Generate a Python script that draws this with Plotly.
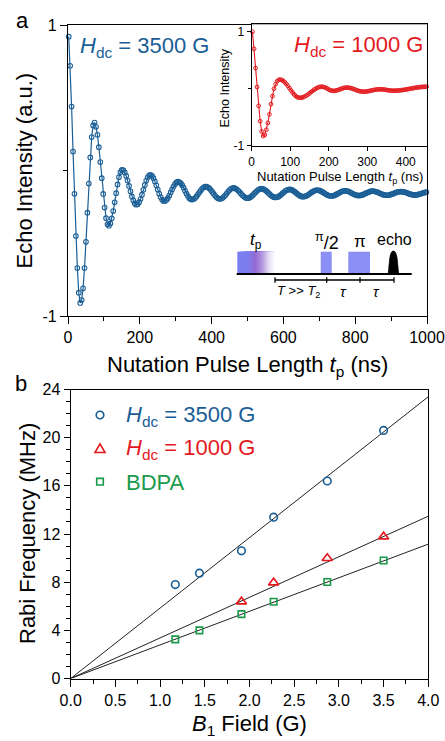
import plotly.graph_objects as go

W, H = 445, 741
FONT = "Liberation Sans, Arial, sans-serif"
BLUE = "#1a5e96"
RED = "#e4191e"
GREEN = "#1a9a4b"

# ---------------- data: panel a (main, Hdc = 3500 G) ----------------
t_main = list(range(2, 1000, 4))  # ns, acquisition grid
echo_3500 = [
    0.92, 0.72, 0.44, 0.13, -0.16, -0.45, -0.67, -0.84, -0.91, -0.89,
    -0.81, -0.67, -0.49, -0.29, -0.09, 0.09, 0.23, 0.31, 0.33, 0.30,
    0.245, 0.16, 0.058, -0.053, -0.161, -0.255, -0.328, -0.370, -0.379, -0.364,
    -0.329, -0.279, -0.219, -0.156, -0.096, -0.046, -0.011, 0.004, 0.002, -0.013,
    -0.037, -0.069, -0.106, -0.143, -0.178, -0.206, -0.226, -0.235, -0.232, -0.218,
    -0.196, -0.166, -0.133, -0.099, -0.069, -0.047, -0.033, -0.030, -0.037, -0.053,
    -0.075, -0.102, -0.131, -0.159, -0.182, -0.200, -0.209, -0.209, -0.202, -0.190,
    -0.172, -0.151, -0.130, -0.110, -0.094, -0.082, -0.077, -0.079, -0.087, -0.101,
    -0.118, -0.139, -0.159, -0.176, -0.190, -0.198, -0.200, -0.196, -0.189, -0.178,
    -0.164, -0.150, -0.136, -0.124, -0.115, -0.111, -0.111, -0.115, -0.123, -0.134,
    -0.147, -0.161, -0.174, -0.184, -0.192, -0.195, -0.194, -0.189, -0.181, -0.170,
    -0.158, -0.145, -0.134, -0.126, -0.121, -0.120, -0.123, -0.129, -0.138, -0.148,
    -0.159, -0.170, -0.179, -0.186, -0.190, -0.190, -0.186, -0.180, -0.171, -0.161,
    -0.151, -0.141, -0.133, -0.128, -0.125, -0.126, -0.130, -0.136, -0.144, -0.154,
    -0.163, -0.172, -0.179, -0.183, -0.185, -0.184, -0.180, -0.173, -0.165, -0.156,
    -0.148, -0.140, -0.134, -0.131, -0.130, -0.132, -0.137, -0.143, -0.151, -0.159,
    -0.167, -0.173, -0.178, -0.180, -0.179, -0.176, -0.172, -0.165, -0.158, -0.151,
    -0.145, -0.140, -0.136, -0.135, -0.136, -0.139, -0.144, -0.149, -0.156, -0.162,
    -0.168, -0.172, -0.174, -0.175, -0.174, -0.171, -0.166, -0.161, -0.155, -0.150,
    -0.145, -0.142, -0.140, -0.140, -0.142, -0.145, -0.150, -0.155, -0.160, -0.165,
    -0.169, -0.171, -0.172, -0.171, -0.169, -0.166, -0.161, -0.156, -0.152, -0.148,
    -0.144, -0.142, -0.142, -0.143, -0.146, -0.149, -0.153, -0.158, -0.162, -0.166,
    -0.168, -0.170, -0.170, -0.169, -0.166, -0.163, -0.159, -0.155, -0.151, -0.148,
    -0.146, -0.145, -0.145, -0.147, -0.149, -0.152, -0.156, -0.160, -0.163, -0.166,
    -0.167, -0.168, -0.168, -0.166, -0.163, -0.160, -0.157, -0.154, -0.151, -0.149,
]

# ---------------- data: panel a inset (Hdc = 1000 G) ----------------
t_inset = list(range(2, 456, 4))  # ns
echo_1000 = [
    1.00, 0.70, 0.36, 0.03, -0.30, -0.57, -0.75, -0.83, -0.81, -0.72,
    -0.60, -0.45, -0.27, -0.13, 0.00, 0.08, 0.13, 0.155, 0.160, 0.153,
    0.137, 0.113, 0.083, 0.048, 0.010, -0.029, -0.066, -0.099, -0.126, -0.146,
    -0.157, -0.160, -0.156, -0.148, -0.136, -0.120, -0.102, -0.081, -0.060, -0.039,
    -0.018, -0.001, 0.014, 0.026, 0.033, 0.035, 0.032, 0.023, 0.010, -0.005,
    -0.020, -0.031, -0.037, -0.038, -0.034, -0.027, -0.018, -0.008, 0.002, 0.011,
    0.017, 0.020, 0.019, 0.015, 0.009, 0.000, -0.009, -0.020, -0.030, -0.039,
    -0.046, -0.050, -0.052, -0.051, -0.049, -0.044, -0.039, -0.033, -0.027, -0.021,
    -0.016, -0.013, -0.011, -0.010, -0.011, -0.014, -0.017, -0.022, -0.026, -0.030,
    -0.033, -0.035, -0.035, -0.034, -0.033, -0.031, -0.028, -0.025, -0.021, -0.016,
    -0.012, -0.007, -0.002, 0.003, 0.008, 0.013, 0.018, 0.022, 0.025, 0.029,
    0.031, 0.033, 0.034, 0.035,
]

# ---------------- data: panel b ----------------
b1_field = [1.17, 1.44, 1.91, 2.27, 2.87, 3.50]          # G
rabi_3500 = [7.8, 8.75, 10.6, 13.4, 16.4, 20.6]         # MHz
b1_field_1000 = [1.91, 2.27, 2.87, 3.50]
rabi_1000 = [6.38, 7.96, 9.98, 11.78]
rabi_bdpa = [3.25, 4.0, 5.35, 6.37, 8.02, 9.8]
fit_x = [0.0, 4.0]
fit_slopes = {"3500": 5.85, "1000": 3.37, "bdpa": 2.79}  # MHz/G, lines through origin

legend_labels = ["<i>H</i><sub>dc</sub> = 3500 G", "<i>H</i><sub>dc</sub> = 1000 G", "BDPA"]


def px(x):
    return x / W


def py(y):
    return 1 - y / H


fig = go.Figure()

fig.add_trace(go.Scatter(
    x=t_main, y=echo_3500, mode="lines+markers", xaxis="x", yaxis="y",
    line=dict(color=BLUE, width=1.2),
    marker=dict(symbol="circle-open", size=4.6, color=BLUE, line=dict(width=1.1, color=BLUE)),
    cliponaxis=False, showlegend=False))

fig.add_trace(go.Scatter(
    x=t_inset, y=echo_1000, mode="lines+markers", xaxis="x2", yaxis="y2",
    line=dict(color=RED, width=1.1),
    marker=dict(symbol="circle-open", size=3.8, color=RED, line=dict(width=1.0, color=RED)),
    cliponaxis=False, showlegend=False))

for key in ["3500", "1000", "bdpa"]:
    fig.add_trace(go.Scatter(
        x=fit_x, y=[fit_slopes[key] * v for v in fit_x], mode="lines",
        xaxis="x3", yaxis="y3", line=dict(color="#222222", width=1.0), showlegend=False))

fig.add_trace(go.Scatter(
    x=b1_field, y=rabi_3500, mode="markers", xaxis="x3", yaxis="y3",
    marker=dict(symbol="circle-open", size=7.6, color=BLUE, line=dict(width=1.6, color=BLUE)),
    showlegend=False))
fig.add_trace(go.Scatter(
    x=b1_field_1000, y=rabi_1000, mode="markers", xaxis="x3", yaxis="y3",
    marker=dict(symbol="triangle-up-open", size=9, color=RED, line=dict(width=1.6, color=RED)),
    showlegend=False))
fig.add_trace(go.Scatter(
    x=b1_field, y=rabi_bdpa, mode="markers", xaxis="x3", yaxis="y3",
    marker=dict(symbol="square-open", size=6.5, color=GREEN, line=dict(width=1.6, color=GREEN)),
    showlegend=False))

axis_common = dict(showline=True, linecolor="black", linewidth=1.3, mirror=True,
                   showgrid=False, zeroline=False, ticks="outside", tickcolor="black",
                   tickwidth=1.2, color="black", automargin=False)

fig.update_layout(
    width=W, height=H, margin=dict(l=0, r=0, t=0, b=0, pad=0, autoexpand=False),
    paper_bgcolor="white", plot_bgcolor="white",
    font=dict(family=FONT, color="black"),
    xaxis=dict(domain=[px(68), px(427)], range=[0, 1000], anchor="y", dtick=200,
               ticklen=7, tickfont=dict(size=16),
               minor=dict(dtick=100, ticklen=4, ticks="outside", tickcolor="black", tickwidth=1.2),
               **axis_common),
    yaxis=dict(domain=[py(316), py(25)], range=[-1, 1], anchor="x", tickmode="array",
               tickvals=[-1, 1], ticktext=["-1", "1"], ticklen=7, tickfont=dict(size=16),
               minor=dict(tickmode="array", tickvals=[0], ticklen=4, ticks="outside",
                          tickcolor="black", tickwidth=1.2),
               **axis_common),
    xaxis2=dict(domain=[px(251.7), px(427.3)], range=[0, 456], anchor="y2", dtick=100,
                ticklen=4, tickfont=dict(size=12), **axis_common),
    yaxis2=dict(domain=[py(146), py(24.3)], range=[-1.005, 1.13], anchor="x2",
                tickmode="array", tickvals=[-1, 1], ticktext=["-1", "1"], ticklen=4,
                tickfont=dict(size=12),
                minor=dict(tickmode="array", tickvals=[0], ticklen=3, ticks="outside",
                           tickcolor="black", tickwidth=1.2),
                **axis_common),
    xaxis3=dict(domain=[px(70.7), px(428.3)], range=[0, 4], anchor="y3", dtick=0.5,
                tickformat=".1f", ticklen=7, tickfont=dict(size=16),
                minor=dict(dtick=0.25, ticklen=4, ticks="outside", tickcolor="black", tickwidth=1.2),
                **axis_common),
    yaxis3=dict(domain=[py(678.5), py(389.5)], range=[0, 24], anchor="x3", dtick=4,
                ticklen=6, tickfont=dict(size=16),
                minor=dict(dtick=1, ticklen=3.5, ticks="outside", tickcolor="black", tickwidth=1.2),
                **axis_common),
)

ann = []


def text(x, y, s, size, color="black", xanchor="center", yanchor="middle", angle=0):
    ann.append(dict(x=px(x), y=py(y), xref="paper", yref="paper", text=s, showarrow=False,
                    xanchor=xanchor, yanchor=yanchor, textangle=angle,
                    font=dict(size=size, color=color, family=FONT)))


text(22, 20, "a", 22)
text(21, 383, "b", 22)
text(24, 170.5, "Echo Intensity (a.u.)", 22, angle=-90)
text(247.5, 366, "Nutation Pulse Length <i>t</i><sub>p</sub> (ns)", 22)
text(225, 88.5, "Echo Intensity", 12.5, angle=-90)
text(339.5, 177, "Nutation Pulse Length <i>t</i><sub>p</sub> (ns)", 13)
text(78, 47, "<i>H</i><sub>dc</sub> = 3500 G", 22, color=BLUE, xanchor="left")
text(291.7, 46, "<i>H</i><sub>dc</sub> = 1000 G", 22, color=RED, xanchor="left")
text(27, 534, "Rabi Frequency (MHz)", 22, angle=-90)
text(249.5, 740.5, "<i>B</i><sub>1</sub> Field (G)", 22, yanchor="bottom")

leg_y = [415, 448.3, 481.7]
leg_col = [BLUE, RED, GREEN]
for lab, yy, cc in zip(legend_labels, leg_y, leg_col):
    text(124, yy + 1, lab, 22, color=cc, xanchor="left")

shapes = []
shapes.append(dict(type="circle", xref="paper", yref="paper",
                   x0=px(96.2), x1=px(103.8), y0=py(418.8), y1=py(411.2),
                   line=dict(color=BLUE, width=1.6)))
tri = "M {},{} L {},{} L {},{} Z".format(px(95), py(452.5), px(105), py(452.5), px(100), py(443.8))
shapes.append(dict(type="path", xref="paper", yref="paper", path=tri, line=dict(color=RED, width=1.6)))
shapes.append(dict(type="rect", xref="paper", yref="paper",
                   x0=px(96.7), x1=px(103.3), y0=py(485), y1=py(478.4),
                   line=dict(color=GREEN, width=1.6)))

# pulse-sequence schematic (decoration)
stops = [(0.0, (122, 128, 240)), (0.28, (125, 125, 238)), (0.48, (150, 106, 212)),
         (0.66, (182, 152, 226)), (0.85, (232, 226, 246)), (1.0, (255, 255, 255))]


def grad(f):
    for (f0, c0), (f1, c1) in zip(stops[:-1], stops[1:]):
        if f0 <= f <= f1:
            u = (f - f0) / (f1 - f0)
            return "rgb({},{},{})".format(*[int(a + (b - a) * u) for a, b in zip(c0, c1)])
    return "white"


x0p, x1p = 237.3, 275.0
n = 30
for i in range(n):
    a = x0p + (x1p - x0p) * i / n
    shapes.append(dict(type="rect", xref="paper", yref="paper", x0=px(a), x1=px(x1p),
                       y0=py(273.3), y1=py(251.7), fillcolor=grad((i + 0.5) / n),
                       line=dict(width=0), opacity=1))
for a, b in [(320.7, 331.7), (348.3, 370.0)]:
    shapes.append(dict(type="rect", xref="paper", yref="paper", x0=px(a), x1=px(b),
                       y0=py(273.3), y1=py(251.7), fillcolor="rgb(140,143,245)",
                       line=dict(width=0)))
e0, e1, ec, eb, et = 388.3, 398.6, 393.4, 273.3, 251.0
echo_path = "M {},{} C {},{} {},{} {},{} C {},{} {},{} {},{} Z".format(
    px(e0), py(eb), px(e0 + 1.2), py(eb - 9), px(ec - 4.2), py(et), px(ec), py(et),
    px(ec + 4.2), py(et), px(e1 - 1.2), py(eb - 9), px(e1), py(eb))
shapes.append(dict(type="path", xref="paper", yref="paper", path=echo_path,
                   fillcolor="black", line=dict(color="black", width=0.8)))
shapes.append(dict(type="line", xref="paper", yref="paper", x0=px(236.7), x1=px(411.7),
                   y0=py(274), y1=py(274), line=dict(color="black", width=2)))
shapes.append(dict(type="line", xref="paper", yref="paper", x0=px(275), x1=px(394),
                   y0=py(280), y1=py(280), line=dict(color="black", width=1.3)))
for xt in [275, 326.7, 360, 394]:
    shapes.append(dict(type="line", xref="paper", yref="paper", x0=px(xt), x1=px(xt),
                       y0=py(277.3), y1=py(282.7), line=dict(color="black", width=1.3)))

text(256, 241, "<i>t</i><sub>p</sub>", 17)
text(327, 241, "<sup>π</sup>/2", 18)
text(360, 242, "π", 17)
text(394, 240, "echo", 16)
text(298, 292, "<i>T</i> &gt;&gt; <i>T</i><sub>2</sub>", 13)
text(343, 292, "<i>τ</i>", 15)
text(376, 292, "<i>τ</i>", 15)

fig.update_layout(annotations=ann, shapes=shapes)
fig.write_html("out.html", config={"displayModeBar": False},
               post_script="document.body.style.margin='0px';document.body.style.padding='0px';"
                           "document.body.style.overflow='hidden';")
